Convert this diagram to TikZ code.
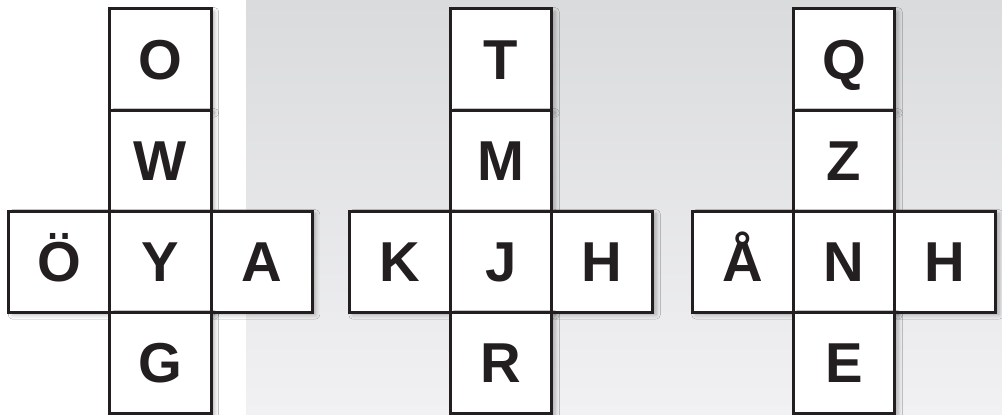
\documentclass[tikz,border=0pt]{standalone}
\usepackage{fontspec}
\setmainfont{Liberation Sans}
\usetikzlibrary{positioning, shadows.blur}

\definecolor{ink}{HTML}{231F20}
\definecolor{bgtop}{HTML}{DADBDD}
\definecolor{bgbottom}{HTML}{F1F1F3}

\begin{document}
\begin{tikzpicture}[
    x=0.025cm, y=-0.025cm,
    cell/.style={rectangle, draw=ink, fill=white, line width=0.075cm,
        minimum size=2.525cm, inner sep=0pt, outer sep=0pt,
        text=ink, text height=28.6pt, text depth=0pt,
        font=\fontsize{40}{48}\selectfont\bfseries,
        blur shadow={shadow xshift=2.5pt, shadow yshift=-2pt,
            shadow blur radius=3pt, shadow opacity=30}},
    node distance=0pt
]

% Background: white strip on the left, grey gradient behind the rest
\useasboundingbox (0,0) rectangle (1002,415);
\fill[white] (0,0) rectangle (246,415);
\shade[top color=bgtop, bottom color=bgbottom] (246,0) rectangle (1002,415);

% First net (drawn top to bottom, left to right, so shadows stay outside)
\node[cell] (o) at (160.5, 59.5) {O};
\node[cell, below=of o] (w) {W};
\node[cell, below left=of w.south west] (oe) {Ö};
\node[cell, below=of w] (y) {Y};
\node[cell, right=of y] (a) {A};
\node[cell, below=of y] (g) {G};

% Second net
\node[cell] (t) at (501, 59.5) {T};
\node[cell, below=of t] (m) {M};
\node[cell, below left=of m.south west] (k) {K};
\node[cell, below=of m] (j) {J};
\node[cell, right=of j] (h1) {H};
\node[cell, below=of j] (r) {R};

% Third net
\node[cell] (q) at (844, 59.5) {Q};
\node[cell, below=of q] (z) {Z};
\node[cell, below left=of z.south west] (aa) {Å};
\node[cell, below=of z] (n) {N};
\node[cell, right=of n] (h2) {H};
\node[cell, below=of n] (e) {E};

\end{tikzpicture}
\end{document}
